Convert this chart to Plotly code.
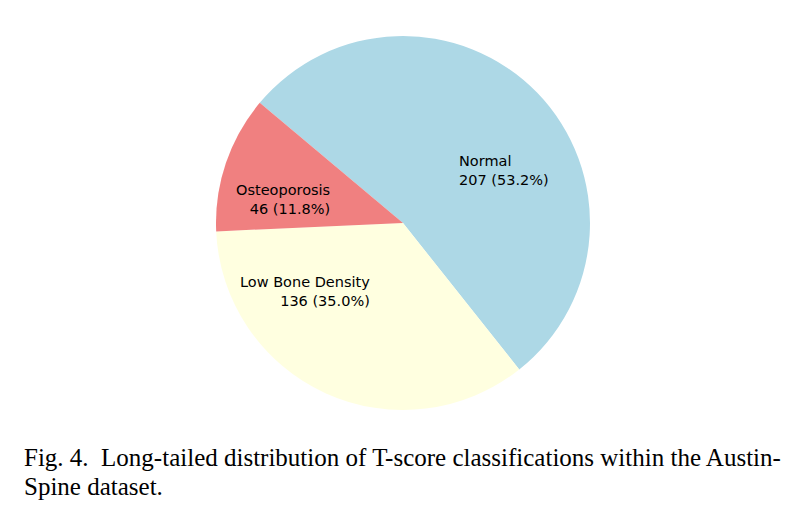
import math
import plotly.graph_objects as go

# T-score classes, in the order they are drawn (clockwise from the start angle)
categories = ["Normal", "Low Bone Density", "Osteoporosis"]
counts = [207, 136, 46]
colors = ["#ADD8E6", "#FFFFE0", "#F08080"]

caption_lines = [
    "Fig. 4.&nbsp; Long-tailed distribution of T-score classifications within the Austin-",
    "Spine dataset.",
]

W, H = 804, 523
cx, cy, R = 403, 223, 187          # pie centre / radius in pixels
start_deg = 140                     # first slice starts here (maths angle)

dom_x = [(cx - R) / W, (cx + R) / W]
dom_y = [1 - (cy + R) / H, 1 - (cy - R) / H]

fig = go.Figure()
fig.add_trace(go.Pie(
    labels=categories, values=counts, sort=False, direction="clockwise",
    rotation=90 - start_deg, textinfo="none", hoverinfo="label+value+percent",
    marker=dict(colors=colors, line=dict(width=0)),
    domain=dict(x=dom_x, y=dom_y), showlegend=False,
))

# labels inside slices, at 0.4 of the radius like matplotlib's labeldistance
total = sum(counts)
cum = 0
for name, v in zip(categories, counts):
    mid = math.radians(start_deg - (cum + v / 2) / total * 360)
    cum += v
    px_x = cx + 0.4 * R * math.cos(mid)
    px_y = cy - 0.4 * R * math.sin(mid)
    side = "left" if math.cos(mid) > 0 else "right"
    fig.add_annotation(
        x=px_x / W, y=1 - px_y / H, xref="paper", yref="paper",
        text=f"{name}<br>{v} ({v / total * 100:.1f}%)",
        showarrow=False, xanchor=side, yanchor="middle", align=side,
        font=dict(family="DejaVu Sans", size=14.5, color="#000000"),
    )

# caption, one annotation per line
for i, line in enumerate(caption_lines):
    fig.add_annotation(
        x=22 / W, y=1 - (457 + 30 * i) / H, xref="paper", yref="paper",
        text=line, showarrow=False, xanchor="left", yanchor="middle",
        font=dict(family="Liberation Serif", size=25, color="#000000"),
    )

fig.update_layout(
    width=W, height=H, margin=dict(l=0, r=0, t=0, b=0),
    paper_bgcolor="white", plot_bgcolor="white",
)
fig.write_html("out.html", config={"displayModeBar": False},
               post_script="document.body.style.margin='0';")
